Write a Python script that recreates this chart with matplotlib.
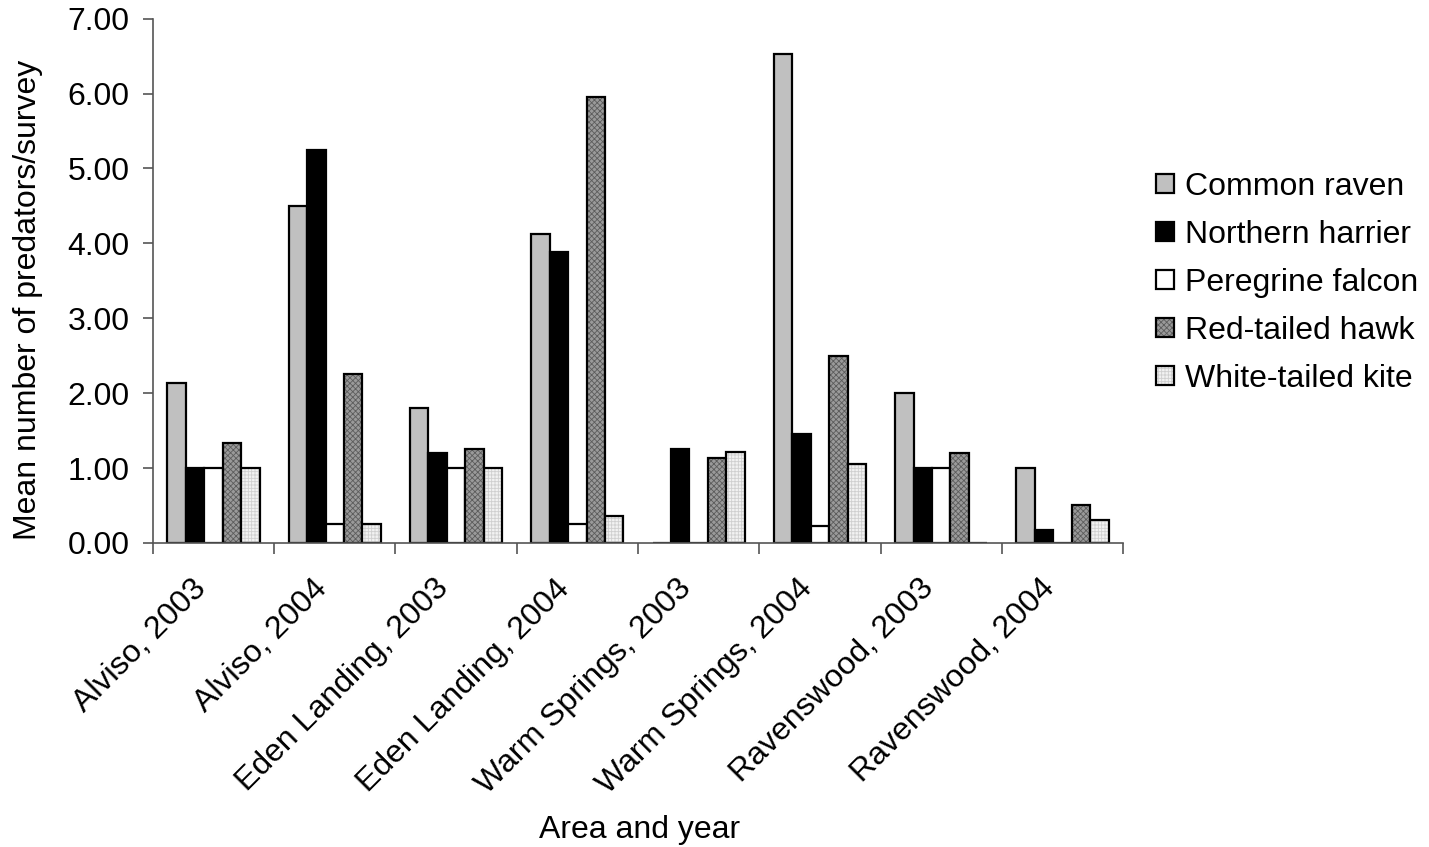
import numpy as np
import matplotlib.pyplot as plt
import matplotlib.transforms as mtransforms
from matplotlib.ticker import FormatStrFormatter

plt.rcParams['font.family'] = ['Liberation Sans', 'DejaVu Sans']
plt.rcParams['hatch.linewidth'] = 0.6

# mean predators per survey, by area/year
areas = ['Alviso, 2003', 'Alviso, 2004', 'Eden Landing, 2003', 'Eden Landing, 2004',
         'Warm Springs, 2003', 'Warm Springs, 2004', 'Ravenswood, 2003', 'Ravenswood, 2004']
common_raven = [2.13, 4.50, 1.80, 4.12, 0.00, 6.53, 2.00, 1.00]
northern_harrier = [1.00, 5.25, 1.20, 3.88, 1.25, 1.45, 1.00, 0.17]
peregrine_falcon = [1.00, 0.25, 1.00, 0.25, 0.00, 0.22, 1.00, 0.00]
red_tailed_hawk = [1.33, 2.25, 1.25, 5.95, 1.13, 2.50, 1.20, 0.50]
white_tailed_kite = [1.00, 0.25, 1.00, 0.36, 1.21, 1.05, 0.00, 0.30]

series = [
    ('Common raven', common_raven, '#c0c0c0', None, None),
    ('Northern harrier', northern_harrier, '#000000', None, None),
    ('Peregrine falcon', peregrine_falcon, '#ffffff', None, None),
    ('Red-tailed hawk', red_tailed_hawk, '#9a9a9a', 'xxxxxx', '#5c5c5c'),
    ('White-tailed kite', white_tailed_kite, '#f2f2f2', '+++++', '#cfcfcf'),
]

FS = 23

fig = plt.figure(figsize=(14.29, 8.47), dpi=100)
ax = fig.add_axes([0.107, 0.359, 0.679, 0.619])

x = np.arange(len(areas))
width = 0.152
handles = []
for i, (name, vals, fc, hatch, hc) in enumerate(series):
    pos = x - 2 * width + i * width
    if hatch:
        fill = ax.bar(pos, vals, width, color=fc, edgecolor=hc, hatch=hatch, linewidth=0)
        edge = ax.bar(pos, vals, width, facecolor='none', edgecolor='black', linewidth=1.6)
        handles.append((fill[0], edge[0]))
    else:
        b = ax.bar(pos, vals, width, color=fc, edgecolor='black', linewidth=1.6)
        handles.append(b[0])

ax.set_xlim(-0.5, len(areas) - 0.5)
ax.set_ylim(0, 7)
ax.set_yticks(np.arange(0, 8, 1))
ax.yaxis.set_major_formatter(FormatStrFormatter('%.2f'))

# tick marks at group boundaries, labels at group centres
ax.set_xticks(np.arange(len(areas) + 1) - 0.5)
ax.set_xticklabels([])
ax.set_xticks(x, minor=True)
ax.set_xticklabels(areas, minor=True, rotation=45, ha='right', va='center',
                   rotation_mode='anchor', fontsize=FS)
ax.tick_params(axis='x', which='minor', length=0, pad=34)
ax.tick_params(axis='x', which='major', length=8, width=1.2, color='#555555')
ax.tick_params(axis='y', length=7, width=1.2, color='#555555', labelsize=FS, pad=10)

shift = mtransforms.ScaledTranslation(-12 / 100, 6 / 100, fig.dpi_scale_trans)
for lbl in ax.get_xticklabels(minor=True):
    lbl.set_transform(lbl.get_transform() + shift)

for s in ['top', 'right']:
    ax.spines[s].set_visible(False)
for s in ['left', 'bottom']:
    ax.spines[s].set_color('#555555')
    ax.spines[s].set_linewidth(1.2)

fig.text(28 / 1429, 1 - 300 / 847, 'Mean number of predators/survey', fontsize=FS,
         rotation=90, ha='center', va='center')
fig.text(640 / 1429, 1 - 830 / 847, 'Area and year', fontsize=FS, ha='center', va='center')

ax.legend(handles, [s[0] for s in series], loc='center left', bbox_to_anchor=(1.034, 0.496),
          frameon=False, fontsize=FS, handlelength=0.55, handleheight=0.55,
          handletextpad=0.35, labelspacing=0.56, borderpad=0, borderaxespad=0)

fig.savefig('out.png', dpi=100)
